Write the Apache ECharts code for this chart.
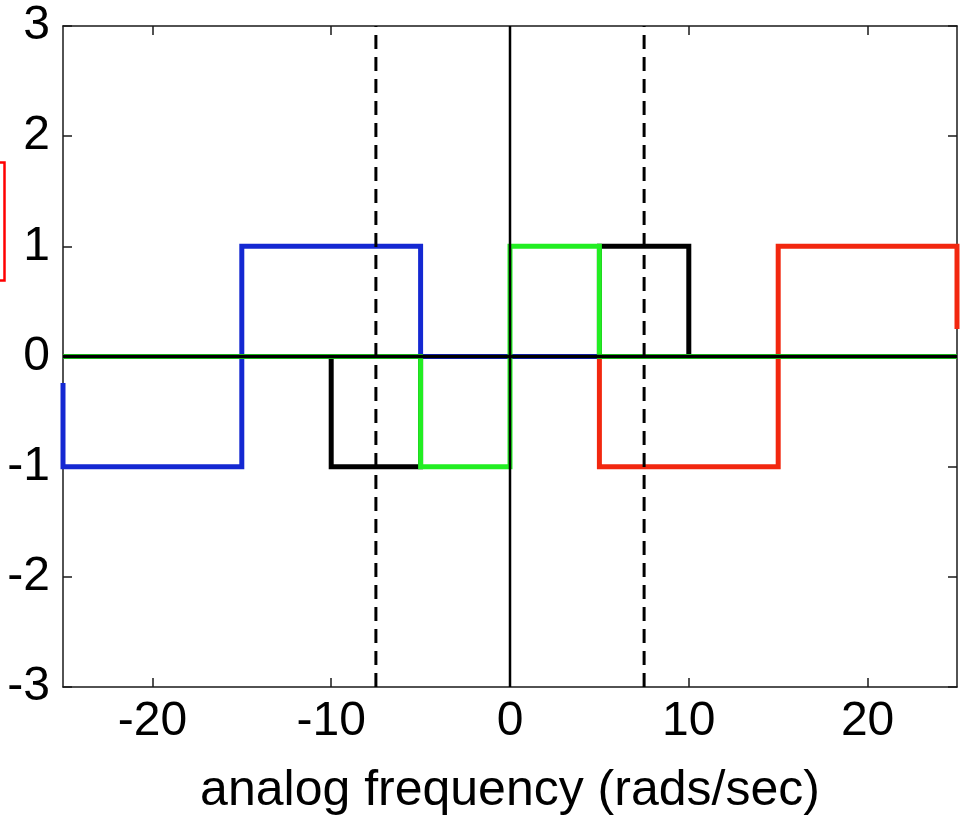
<!DOCTYPE html>
<html>
<head>
<meta charset="utf-8">
<script src="https://cdn.jsdelivr.net/npm/echarts@6/dist/echarts.min.js"></script>
<style>
  html, body { margin: 0; padding: 0; background: #ffffff; }
  #chart { width: 965px; height: 824px; }
</style>
</head>
<body>
<div id="chart"></div>
<script>
// Frequency-domain step responses, as [frequency, amplitude] breakpoints
const blueSignal  = [[-25, -0.24], [-25, -1], [-15, -1], [-15, 1], [-5, 1], [-5, 0], [25, 0]];
const blackSignal = [[-25, 0], [-10, 0], [-10, -1], [-5, -1], [-5, 0], [5, 0], [5, 1], [10, 1], [10, 0], [25, 0]];
const greenSignal = [[-25, 0], [-5, 0], [-5, -1], [0, -1], [0, 1], [5, 1], [5, 0], [25, 0]];
const redSignal   = [[-25, 0], [5, 0], [5, -1], [15, -1], [15, 1], [25, 1], [25, 0.25]];

// Cutoff frequencies (dashed markers) and axis ranges
const cutoffs = [-7.5, 7.5];
const xRange = [-25, 25];
const yRange = [-3, 3];
const xTicks = [-20, -10, 0, 10, 20];
const xLabel = 'analog frequency (rads/sec)';

const FONT = '"Liberation Sans", Arial, Helvetica, sans-serif';
const chart = echarts.init(document.getElementById('chart'), null, { renderer: 'canvas' });

const axisLine = { show: true, onZero: false, lineStyle: { color: '#1a1a1a', width: 1.5 } };
const innerTick = { show: true, inside: true, length: 9, lineStyle: { color: '#1a1a1a', width: 1.5 } };

function stepSeries(data, color, width) {
  return {
    type: 'line', data: data, showSymbol: false, symbol: 'none',
    lineStyle: { color: color, width: width, cap: 'butt', join: 'miter' },
    animation: false, silent: true, z: 2
  };
}

function refLine(data, dashed, width) {
  return {
    type: 'line', data: data, showSymbol: false, symbol: 'none',
    lineStyle: { color: '#000000', width: width, type: dashed ? [14, 8] : 'solid' },
    animation: false, silent: true, z: 3
  };
}

// Drawing order: red, black, blue, green, then the reference lines on top
const series = [
  stepSeries(redSignal, '#f2270f', 5),
  stepSeries(blackSignal, '#000000', 5),
  stepSeries(blueSignal, '#1428d2', 5),
  stepSeries(greenSignal, '#22ee22', 5),
  refLine([[xRange[0], 0], [xRange[1], 0]], false, 3.5),
  refLine([[0, yRange[0]], [0, yRange[1]]], false, 2.5)
];
cutoffs.forEach(function (c) {
  series.push(refLine([[c, yRange[0]], [c, yRange[1]]], true, 3));
});

chart.setOption({
  backgroundColor: '#ffffff',
  animation: false,
  grid: { left: 63, top: 26, right: 8, bottom: 137, containLabel: false },
  xAxis: [
    {
      type: 'value', position: 'bottom', min: xRange[0], max: xRange[1],
      axisLine: axisLine, splitLine: { show: false },
      axisTick: Object.assign({ customValues: xTicks }, innerTick),
      axisLabel: { customValues: xTicks, color: '#000', fontFamily: FONT, fontSize: 48, margin: 11 },
      name: xLabel, nameLocation: 'middle', nameGap: 79,
      nameTextStyle: { color: '#000', fontFamily: FONT, fontSize: 50 }
    },
    {
      type: 'value', position: 'top', min: xRange[0], max: xRange[1],
      axisLine: axisLine, splitLine: { show: false },
      axisTick: Object.assign({ customValues: xTicks }, innerTick),
      axisLabel: { show: false }
    }
  ],
  yAxis: [
    {
      type: 'value', position: 'left', min: yRange[0], max: yRange[1], interval: 1,
      axisLine: axisLine, splitLine: { show: false }, axisTick: innerTick,
      axisLabel: { color: '#000', fontFamily: FONT, fontSize: 48, margin: 13 }
    },
    {
      type: 'value', position: 'right', min: yRange[0], max: yRange[1], interval: 1,
      axisLine: axisLine, splitLine: { show: false }, axisTick: innerTick,
      axisLabel: { show: false }
    }
  ],
  graphic: [
    {
      type: 'rect', left: -20, top: 160, silent: true,
      shape: { x: 0, y: 0, width: 22, height: 118 },
      style: { fill: 'none', stroke: '#ff0000', lineWidth: 2.5 }
    }
  ],
  series: series
});
</script>
</body>
</html>
